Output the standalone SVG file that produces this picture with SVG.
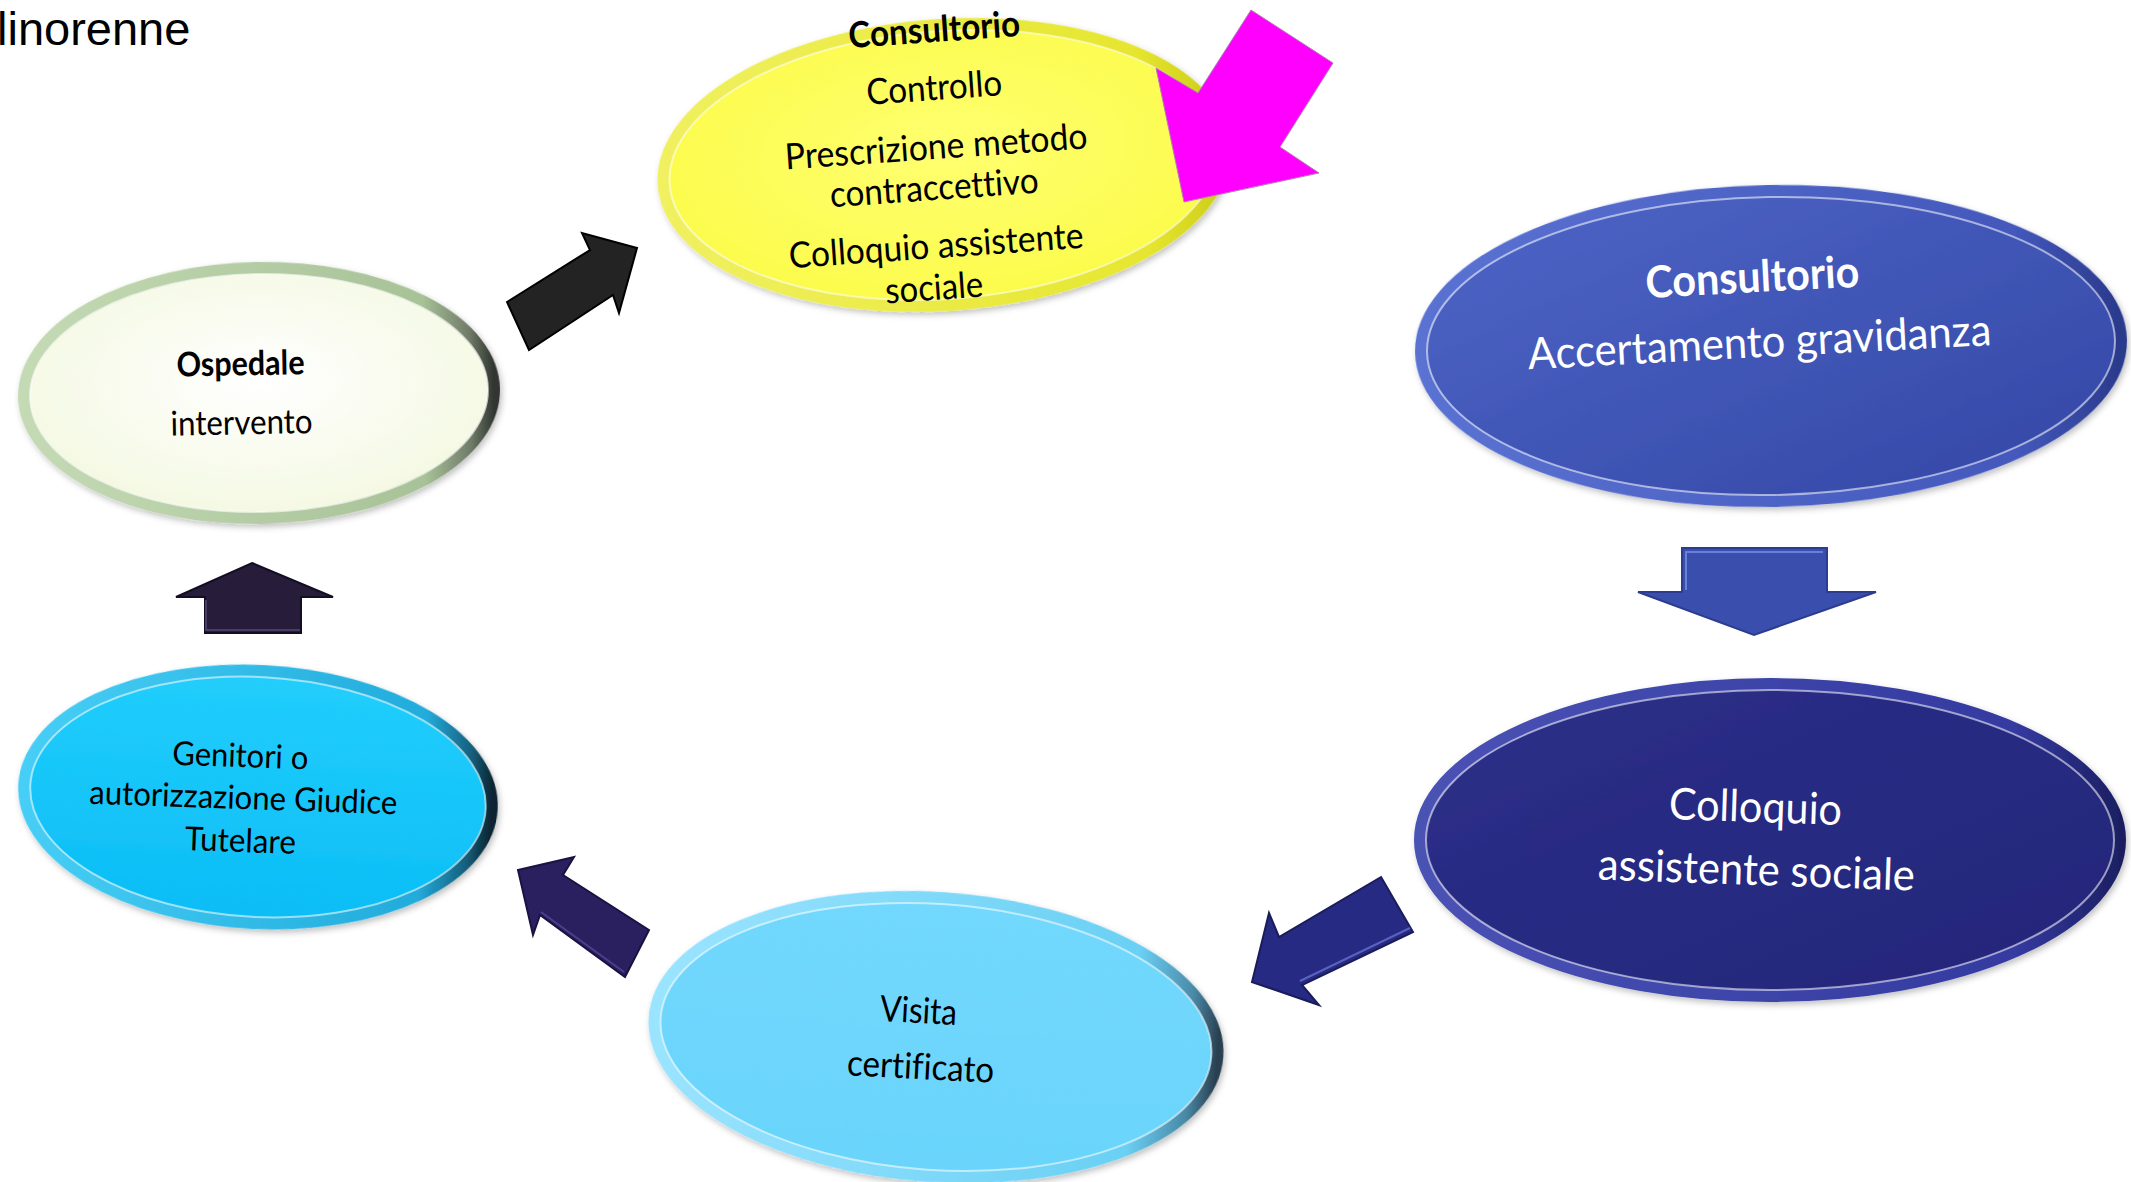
<svg xmlns="http://www.w3.org/2000/svg" width="2131" height="1182" viewBox="0 0 2131 1182">
<defs>
<style>
.t{font-family:Lato,"Open Sans","Noto Sans",sans-serif;text-anchor:middle;font-variant-ligatures:none}
.b{font-weight:bold}
.dk{fill:#000}
.wh{fill:#fff}
.hl{fill:none;stroke:#fff;stroke-opacity:0.55;stroke-width:2}
.arrow{stroke-width:2;stroke-linejoin:miter}
</style>
<filter id="sh" x="-10%" y="-10%" width="125%" height="130%"><feDropShadow dx="2" dy="3" stdDeviation="3" flood-color="#000" flood-opacity="0.25"/></filter>
<linearGradient id="rimO" x1="0" y1="0" x2="1" y2="0"><stop offset="0" stop-color="#c4dab4"/><stop offset="0.85" stop-color="#a8c298"/><stop offset="0.95" stop-color="#6f7a68"/><stop offset="1" stop-color="#303530"/></linearGradient>
<radialGradient id="fillO" cx="0.5" cy="0.45" r="0.6"><stop offset="0" stop-color="#ffffff"/><stop offset="1" stop-color="#f3f8df"/></radialGradient>
<linearGradient id="rimY" x1="0" y1="0" x2="1" y2="0"><stop offset="0" stop-color="#f0f060"/><stop offset="0.85" stop-color="#e6e630"/><stop offset="1" stop-color="#cccc18"/></linearGradient>
<radialGradient id="fillY" cx="0.5" cy="0.45" r="0.6"><stop offset="0" stop-color="#ffff70"/><stop offset="1" stop-color="#fbfb48"/></radialGradient>
<linearGradient id="rimB" x1="0" y1="0" x2="1" y2="0"><stop offset="0" stop-color="#5a72d2"/><stop offset="0.85" stop-color="#4458bc"/><stop offset="1" stop-color="#2a3a8c"/></linearGradient>
<linearGradient id="fillB" x1="0" y1="0" x2="1" y2="1"><stop offset="0" stop-color="#4f66c8"/><stop offset="1" stop-color="#3246a4"/></linearGradient>
<linearGradient id="rimN" x1="0" y1="0" x2="1" y2="0"><stop offset="0" stop-color="#4a52b4"/><stop offset="0.85" stop-color="#343aa0"/><stop offset="1" stop-color="#1c1f62"/></linearGradient>
<linearGradient id="fillN" x1="0" y1="0" x2="1" y2="1"><stop offset="0" stop-color="#2b2f88"/><stop offset="1" stop-color="#23267a"/></linearGradient>
<linearGradient id="rimV" x1="0" y1="0" x2="1" y2="0"><stop offset="0" stop-color="#9ae4ff"/><stop offset="0.85" stop-color="#6ad0f4"/><stop offset="0.95" stop-color="#4a8aa8"/><stop offset="1" stop-color="#2a4050"/></linearGradient>
<linearGradient id="fillV" x1="0" y1="0" x2="0" y2="1"><stop offset="0" stop-color="#72d8fd"/><stop offset="1" stop-color="#6ad4fb"/></linearGradient>
<linearGradient id="rimG" x1="0" y1="0" x2="1" y2="0"><stop offset="0" stop-color="#46cef6"/><stop offset="0.85" stop-color="#22acdc"/><stop offset="0.95" stop-color="#16607e"/><stop offset="1" stop-color="#0a2430"/></linearGradient>
<linearGradient id="fillG" x1="0" y1="0" x2="0" y2="1"><stop offset="0" stop-color="#22cefc"/><stop offset="1" stop-color="#0bbdf6"/></linearGradient>
</defs>

<rect width="2131" height="1182" fill="#fff"/>
<text x="-3" y="45" font-family="'Liberation Sans',Arial,sans-serif" font-size="47" fill="#000">linorenne</text>

<g id="nodes">
<g id="node-ospedale" transform="rotate(-1 259 393)">
<ellipse cx="259" cy="393" rx="235" ry="125" fill="url(#fillO)" stroke="url(#rimO)" stroke-width="12" filter="url(#sh)"/>
<ellipse class="hl" cx="259" cy="393" rx="229" ry="119" stroke-opacity="0.8"/>
<text class="t b dk" x="241" y="375" font-size="34" textLength="128" lengthAdjust="spacingAndGlyphs">Ospedale</text>
<text class="t dk" x="241" y="434" font-size="34" textLength="142" lengthAdjust="spacingAndGlyphs">intervento</text>
</g>

<g id="node-consultorio-controllo" transform="rotate(-4 944 165)">
<ellipse cx="944" cy="165" rx="281" ry="140" fill="url(#fillY)" stroke="url(#rimY)" stroke-width="12" filter="url(#sh)"/>
<ellipse class="hl" cx="944" cy="165" rx="275" ry="134" stroke-opacity="0.7"/>
</g>
<g id="node-consultorio-controllo-text">
<text class="t b dk" x="935" y="42" font-size="36" textLength="172" lengthAdjust="spacingAndGlyphs" transform="rotate(-4 935 42)">Consultorio</text>
<text class="t dk" x="935" y="100" font-size="36" textLength="136" lengthAdjust="spacingAndGlyphs" transform="rotate(-4 935 100)">Controllo</text>
<text class="t dk" x="937" y="159" font-size="36" textLength="303" lengthAdjust="spacingAndGlyphs" transform="rotate(-4 937 159)">Prescrizione metodo</text>
<text class="t dk" x="935" y="200" font-size="36" textLength="209" lengthAdjust="spacingAndGlyphs" transform="rotate(-4 935 200)">contraccettivo</text>
<text class="t dk" x="937" y="258" font-size="36" textLength="295" lengthAdjust="spacingAndGlyphs" transform="rotate(-4 937 258)">Colloquio assistente</text>
<text class="t dk" x="935" y="300" font-size="36" textLength="98" lengthAdjust="spacingAndGlyphs" transform="rotate(-4 935 300)">sociale</text>
</g>

<g id="node-consultorio-accertamento" transform="rotate(-1 1771 346)">
<ellipse cx="1771" cy="346" rx="350" ry="155" fill="url(#fillB)" stroke="url(#rimB)" stroke-width="12" filter="url(#sh)"/>
<ellipse class="hl" cx="1771" cy="346" rx="344" ry="149" stroke-opacity="0.35"/>
<text class="t b wh" x="1754" y="292" font-size="44" textLength="214" lengthAdjust="spacingAndGlyphs" transform="rotate(-2 1754 292)">Consultorio</text>
<text class="t wh" x="1760" y="357" font-size="44" textLength="464" lengthAdjust="spacingAndGlyphs" transform="rotate(-2 1760 357)">Accertamento gravidanza</text>
</g>

<g id="node-colloquio">
<ellipse cx="1770" cy="840" rx="350" ry="156" fill="url(#fillN)" stroke="url(#rimN)" stroke-width="12" filter="url(#sh)"/>
<ellipse class="hl" cx="1770" cy="840" rx="344" ry="150" stroke-opacity="0.3"/>
<text class="t wh" x="1755" y="822" font-size="44" textLength="173" lengthAdjust="spacingAndGlyphs" transform="rotate(2 1755 822)">Colloquio</text>
<text class="t wh" x="1756" y="885" font-size="44" textLength="317" lengthAdjust="spacingAndGlyphs" transform="rotate(2 1756 885)">assistente sociale</text>
</g>

<g id="node-visita" transform="rotate(4 936 1037)">
<ellipse cx="936" cy="1037" rx="282" ry="139" fill="url(#fillV)" stroke="url(#rimV)" stroke-width="12" filter="url(#sh)"/>
<ellipse class="hl" cx="936" cy="1037" rx="276" ry="133" stroke-opacity="0.8"/>
</g>
<g id="node-visita-text">
<text class="t dk" x="918" y="1023" font-size="36" textLength="77" lengthAdjust="spacingAndGlyphs" transform="rotate(3 918 1023)">Visita</text>
<text class="t dk" x="920" y="1079" font-size="36" textLength="147" lengthAdjust="spacingAndGlyphs" transform="rotate(3 920 1079)">certificato</text>
</g>

<g id="node-genitori" transform="rotate(3 258 797)">
<ellipse cx="258" cy="797" rx="234" ry="126" fill="url(#fillG)" stroke="url(#rimG)" stroke-width="12" filter="url(#sh)"/>
<ellipse class="hl" cx="258" cy="797" rx="228" ry="120" stroke-opacity="0.7"/>
</g>
<g id="node-genitori-text">
<text class="t dk" x="240" y="767" font-size="33" textLength="136" lengthAdjust="spacingAndGlyphs" transform="rotate(2 240 767)">Genitori o</text>
<text class="t dk" x="243" y="809" font-size="33" textLength="308" lengthAdjust="spacingAndGlyphs" transform="rotate(2 243 809)">autorizzazione Giudice</text>
<text class="t dk" x="240" y="852" font-size="33" textLength="111" lengthAdjust="spacingAndGlyphs" transform="rotate(2 240 852)">Tutelare</text>
</g>
</g>

<g id="connectors">
<polygon id="arrow-ospedale-consultorio" class="arrow" points="507,302 590,250 582,233 637,248 619,313 613,295 529,350" fill="#232323" stroke="#000"/>
<polygon id="arrow-magenta" points="1251,10 1333,63 1280,147 1319,173 1184,202 1156,68 1198,93" fill="#ff00ff" stroke="#b080b0" stroke-width="1"/>
<polygon id="arrow-accertamento-colloquio" class="arrow" points="1682,548 1827,548 1827,592 1876,592 1754,635 1638,592 1682,592" fill="#3a4eae" stroke="#2c3c90"/>
<polyline points="1686,590 1686,552 1823,552" fill="none" stroke="#6a80d8" stroke-width="2"/>
<polygon id="arrow-colloquio-visita" class="arrow" points="1381,877 1413,932 1302,985 1319,1005 1252,982 1269,913 1279,937" fill="#272a82" stroke="#1a1c5c"/>
<polyline points="1410,928 1300,981" fill="none" stroke="#5a62c0" stroke-width="2"/>
<polygon id="arrow-visita-genitori" class="arrow" points="518,870 574,857 563,875 649,930 625,977 540,915 533,935" fill="#2a2060" stroke="#1a1240"/>
<polyline points="541,912 624,972" fill="none" stroke="#4a3f8a" stroke-width="2"/>
<polygon id="arrow-genitori-ospedale" class="arrow" points="252,563 333,597 301,597 301,633 205,633 205,597 176,597" fill="#271c3a" stroke="#140e22"/>
<polyline points="206,600 206,630 300,630" fill="none" stroke="#4a3c66" stroke-width="2"/>
</g>
</svg>
